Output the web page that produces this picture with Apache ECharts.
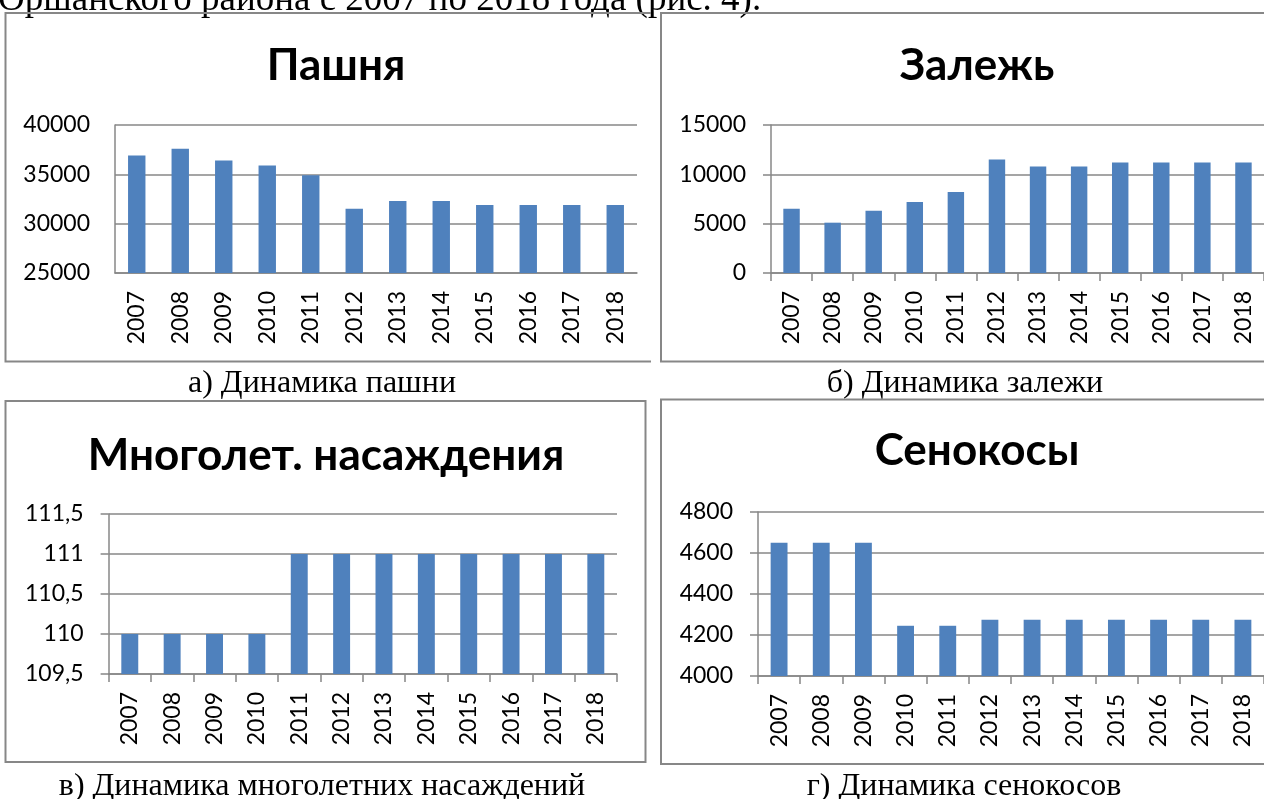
<!DOCTYPE html>
<html>
<head>
<meta charset="utf-8">
<script src="https://cdn.jsdelivr.net/npm/echarts@6/dist/echarts.min.js"></script>
<style>
html,body{margin:0;padding:0;background:#fff;}
#c{width:1264px;height:799px;}
</style>
</head>
<body>
<div id="c"></div>
<script>
const years = ['2007','2008','2009','2010','2011','2012','2013','2014','2015','2016','2017','2018'];
const pashnya = [36900, 37600, 36400, 35900, 34900, 31500, 32300, 32300, 31900, 31900, 31900, 31900];
const zalezh = [6500, 5100, 6300, 7200, 8200, 11500, 10800, 10800, 11200, 11200, 11200, 11200];
const mnogolet = [110, 110, 110, 110, 111, 111, 111, 111, 111, 111, 111, 111];
const senokosy = [4650, 4650, 4650, 4245, 4245, 4275, 4275, 4275, 4275, 4275, 4275, 4275];
const titles = ['Пашня', 'Залежь', 'Многолет. насаждения', 'Сенокосы'];
const captions = ['а) Динамика пашни', 'б) Динамика залежи', 'в) Динамика многолетних насаждений', 'г) Динамика сенокосов'];
const topText = 'Оршанского района с 2007 по 2018 года (рис. 4).';

const GRAY = '#878787';
const BLUE = '#4F81BD';
const SANS = 'Lato, "Open Sans", sans-serif';
const SERIF = '"Liberation Serif", "DejaVu Serif", serif';

const chart = echarts.init(document.getElementById('c'), null, {renderer: 'canvas'});

const grids = [
  {left: 115, top: 125, width: 522, height: 148},
  {left: 771, top: 125, width: 494, height: 148},
  {left: 108.6, top: 514, width: 508.4, height: 160},
  {left: 758, top: 512, width: 506.5, height: 164}
];
const yCfg = [
  {min: 25000, max: 40000, interval: 5000, ticks: false},
  {min: 0, max: 15000, interval: 5000, ticks: true},
  {min: 109.5, max: 111.5, interval: 0.5, ticks: true},
  {min: 4000, max: 4800, interval: 200, ticks: true}
];
const seriesData = [pashnya, zalezh, mnogolet, senokosy];

const xAxes = grids.map((g, i) => ({
  type: 'category', gridIndex: i, data: years, boundaryGap: true,
  axisLine: {show: true, lineStyle: {color: GRAY, width: 1.5}},
  axisTick: {show: yCfg[i].ticks, length: 8, alignWithLabel: false, lineStyle: {color: GRAY, width: 1.5}},
  axisLabel: {rotate: 90, margin: 18, fontSize: 23, color: '#000', fontFamily: SANS, interval: 0}
}));
const yAxes = grids.map((g, i) => ({
  type: 'value', gridIndex: i, min: yCfg[i].min, max: yCfg[i].max, interval: yCfg[i].interval,
  axisLine: {show: true, lineStyle: {color: GRAY, width: 1.5}},
  axisTick: {show: yCfg[i].ticks, length: 8, lineStyle: {color: GRAY, width: 1.5}},
  splitLine: {show: true, lineStyle: {color: GRAY, width: 1.5}},
  axisLabel: {margin: 25, fontSize: 23, color: '#000', fontFamily: SANS,
    formatter: v => String(v).replace('.', ',')}
}));
const series = seriesData.map((d, i) => ({
  type: 'bar', xAxisIndex: i, yAxisIndex: i, data: d, barWidth: '40%',
  itemStyle: {color: BLUE}, silent: true
}));

const titlePos = [[336, 66], [977, 66], [326, 456], [977, 451]];
const titleSize = [44, 44, 44, 44];
const capPos = [[322, 384], [965, 384], [322, 787], [964, 787]];

const graphic = [];
titles.forEach((t, i) => graphic.push({
  type: 'text', x: titlePos[i][0], y: titlePos[i][1],
  style: {text: t, fill: '#000', font: 'bold ' + titleSize[i] + 'px ' + SANS, align: 'center', verticalAlign: 'middle'}
}));
captions.forEach((t, i) => graphic.push({
  type: 'text', x: capPos[i][0], y: capPos[i][1],
  style: {text: t, fill: '#000', font: '32px ' + SERIF, align: 'center', verticalAlign: 'middle'}
}));
graphic.push({
  type: 'text', x: -2, y: 19,
  style: {text: topText, fill: '#000', font: '37px ' + SERIF, align: 'left', verticalAlign: 'bottom'}
});
const boxStyle = {stroke: GRAY, lineWidth: 2, fill: 'none'};
graphic.push({type: 'polyline', shape: {points: [[651, 13], [5.5, 13], [5.5, 361.5], [651, 361.5]]}, style: boxStyle});
graphic.push({type: 'polyline', shape: {points: [[1270, 13], [661, 13], [661, 361.5], [1270, 361.5]]}, style: boxStyle});
graphic.push({type: 'rect', shape: {x: 5.5, y: 401, width: 640, height: 361}, style: boxStyle});
graphic.push({type: 'polyline', shape: {points: [[1270, 399.5], [661, 399.5], [661, 764], [1270, 764]]}, style: boxStyle});

chart.setOption({
  animation: false,
  backgroundColor: '#fff',
  grid: grids.map(g => Object.assign({containLabel: false}, g)),
  xAxis: xAxes,
  yAxis: yAxes,
  series: series,
  graphic: graphic
});
</script>
</body>
</html>
